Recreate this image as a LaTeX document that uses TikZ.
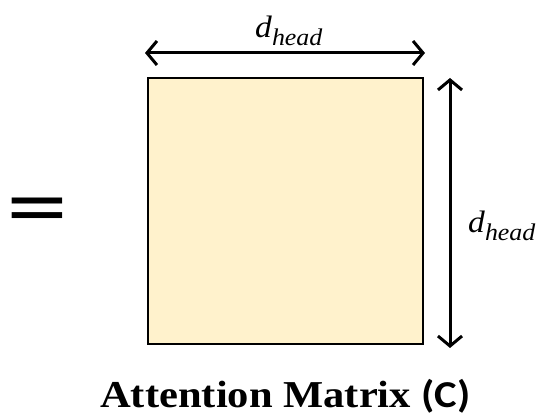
\documentclass[tikz,border=0pt]{standalone}
\usepackage{fontspec}
\setmainfont{Liberation Serif}
\newfontfamily\calibri{Carlito}
\usetikzlibrary{arrows.meta}

\definecolor{matfill}{HTML}{FFF2CC}
\newcommand{\dhead}{\scalebox{1.08}[1]{\textit{d}\raisebox{-8pt}{\fontsize{24}{24}\selectfont\itshape head}}}

\begin{document}
\begin{tikzpicture}[x=1pt, y=-1pt,
    mat/.style={
        rectangle, draw, line width=2pt, fill=matfill,
        minimum width=275pt, minimum height=266pt, inner sep=0pt
    },
    lbl/.style={font=\fontsize{31}{31}\selectfont, inner sep=0pt},
    title/.style={font=\fontsize{38}{38}\selectfont\bfseries, inner sep=0pt},
    eq/.style={font=\calibri\fontsize{92}{92}\selectfont, inner sep=0pt},
    dim/.style={{Straight Barb[length=10pt, width=24pt]}-{Straight Barb[length=10pt, width=24pt]}, line width=3pt}
]
\useasboundingbox (0,0) rectangle (539,419);
\node[mat] (cmat) at (285.5, 211) {};
\node[eq] (eqsign) at (37.5, 218) {\scalebox{1.35}[1]{=}};
\coordinate (topl) at (145, 53);
\coordinate (topr) at (425, 53);
\coordinate (rtop) at (450, 78);
\coordinate (rbot) at (450, 348);
\node[lbl, anchor=base west] (wlabel) at (255, 38) {\dhead};
\node[lbl, anchor=base west] (hlabel) at (468, 233) {\dhead};
\node[title, anchor=base west] (caption) at (100, 408) {\scalebox{1.12}[1]{Attention Matrix {\calibri(C)}}};
\draw[dim] (topl) -- (topr);
\draw[dim] (rtop) -- (rbot);
\end{tikzpicture}
\end{document}
